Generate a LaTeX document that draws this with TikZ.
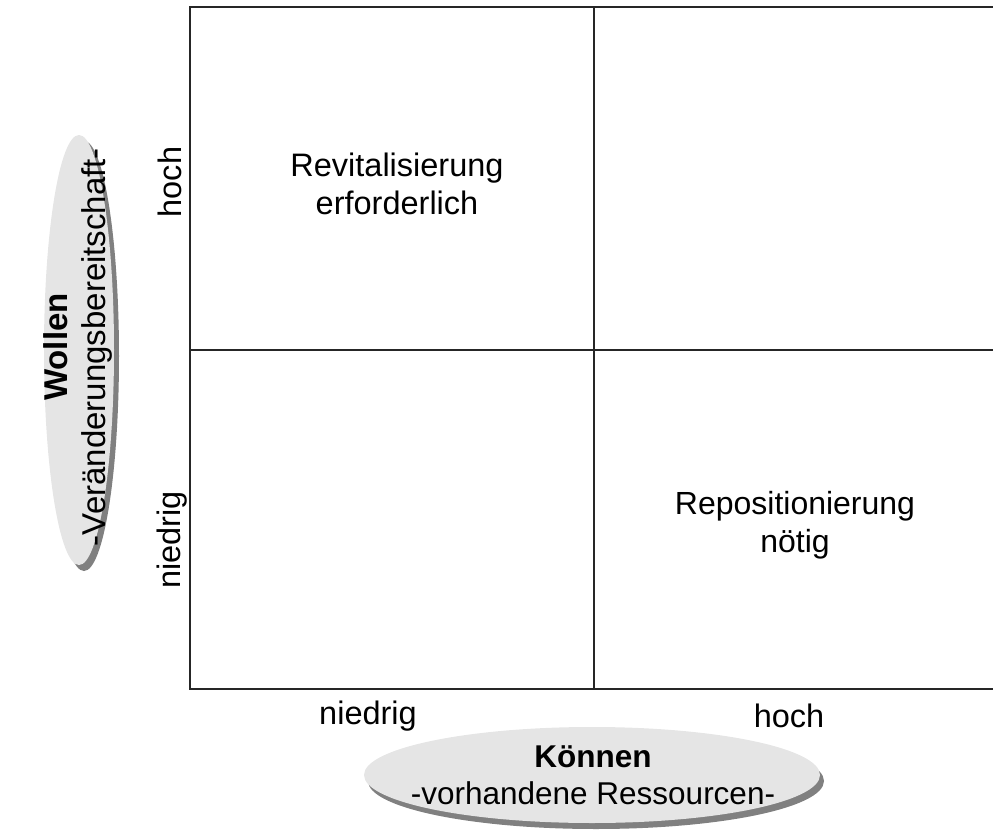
\documentclass[tikz,border=0pt]{standalone}
\usepackage{fontspec}
\setmainfont{Liberation Sans}
\usetikzlibrary{shapes.geometric}
\begin{document}
\begin{tikzpicture}[x=1pt,y=-1pt,
  grid/.style={draw=black!85,line width=1.4pt},
  lbl/.style={font=\fontsize{32.5}{38}\selectfont,align=center,inner sep=0pt},
  ell/.style={ellipse,fill=black!10,inner sep=0pt},
  shade/.style={ellipse,fill=black!50,inner sep=0pt}]
\useasboundingbox (0,0) rectangle (993,837);
% frame
\coordinate (tl) at (190,7);
\coordinate (tr) at (1000,7);
\coordinate (bl) at (190,689);
\coordinate (br) at (1000,689);
\coordinate (tm) at (594,7);
\coordinate (bm) at (594,689);
\coordinate (ml) at (190,350);
\coordinate (mr) at (1000,350);
\draw[grid] (tr) -- (tl) -- (bl) -- (br);
\draw[grid] (tm) -- (bm);
\draw[grid] (ml) -- (mr);
% quadrant texts
\node[lbl] (rev) at (397,184) {Revitalisierung\\erforderlich};
\node[lbl,font=\fontsize{32}{38}\selectfont] (rep) at (795,525) {Repositionierung\\nötig};
% axis labels
\node[lbl,rotate=90] (yh) at (170,182) {hoch};
\node[lbl,rotate=90] (yn) at (172,540) {niedrig};
\node[lbl] (xn) at (368,716) {niedrig};
\node[lbl] (xh) at (789,716) {hoch};
% ellipses
\node[shade,minimum width=70pt,minimum height=430pt] (wolls) at (84,356) {};
\node[ell,minimum width=70pt,minimum height=430pt] (woll) at (79,350) {};
\node[lbl,rotate=90,font=\fontsize{33}{38}\selectfont] (wollt) at (78,347) {\textbf{Wollen}\\-Veränderungsbereitschaft-};
\node[shade,minimum width=456pt,minimum height=96pt] (konns) at (596,781) {};
\node[ell,minimum width=456pt,minimum height=96pt] (konn) at (592,775) {};
\node[lbl,font=\fontsize{31.5}{37}\selectfont] (konnt) at (593,775) {\textbf{Können}\\-vorhandene Ressourcen-};
\end{tikzpicture}
\end{document}
